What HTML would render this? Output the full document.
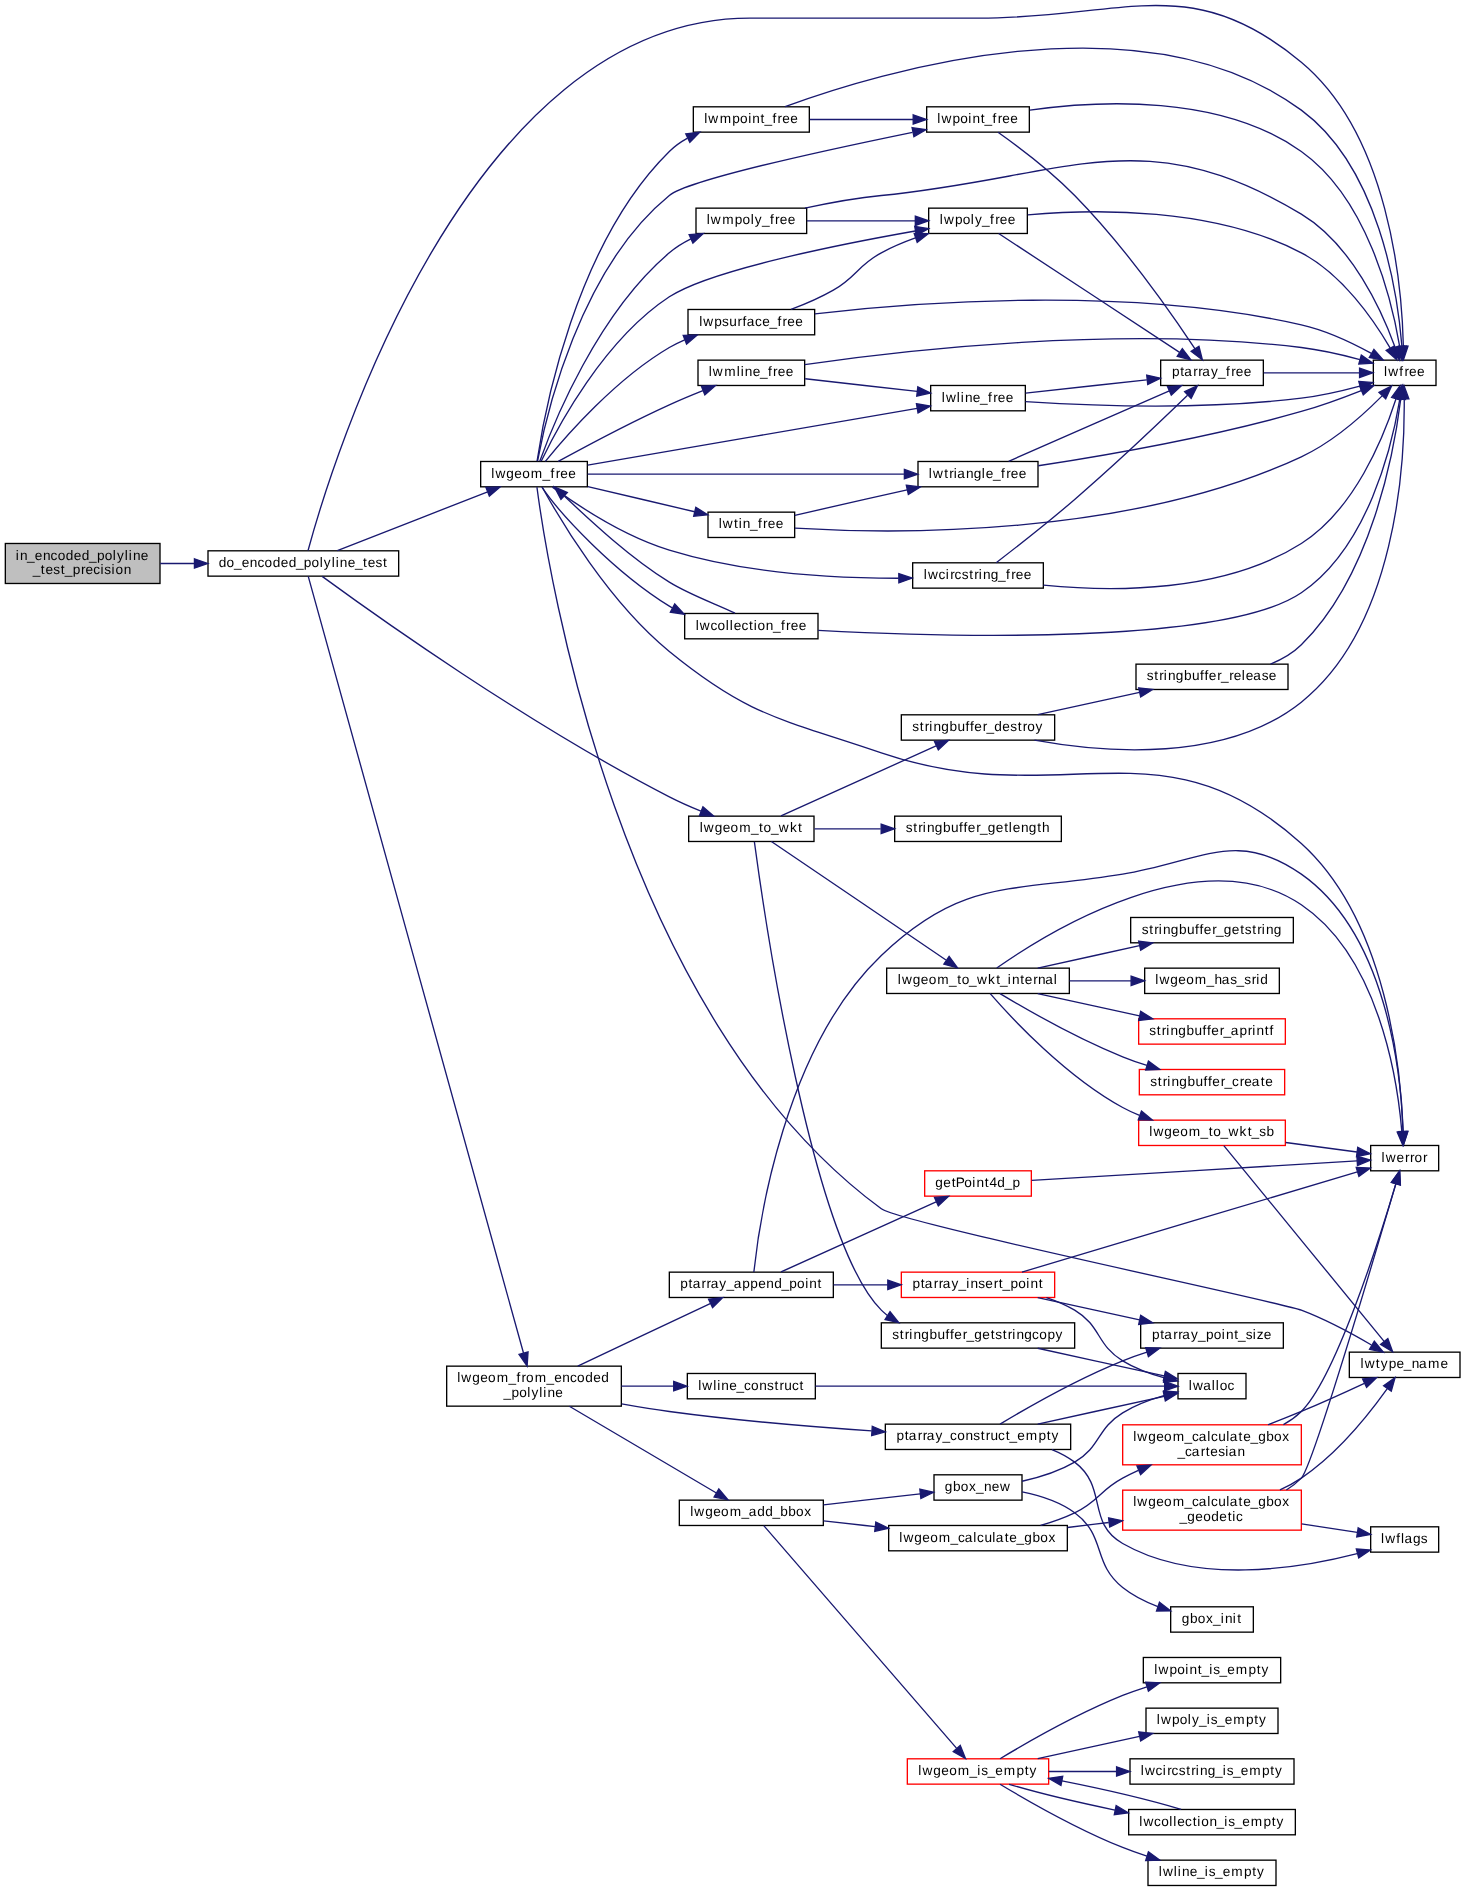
<!DOCTYPE html>
<html><head><meta charset="utf-8"><style>
html,body{margin:0;padding:0;background:#fff;width:1465px;height:1891px;overflow:hidden}
svg{display:block}
text{font-family:"Liberation Sans",sans-serif;font-size:13.65px;fill:#000}
.ep{fill:none;stroke:#191970;stroke-width:1.3333}
.ea{fill:#191970;stroke:#191970;stroke-width:1.3333}
rect{stroke-width:1.3333}
svg{will-change:transform} text{text-rendering:geometricPrecision}
</style></head><body>
<svg width="1465" height="1891" viewBox="0 0 1465 1891">
<rect width="1465" height="1891" fill="#fff" stroke="none"/>
<rect x="5.33" y="543.48" width="154.67" height="40.00" fill="#bfbfbf" stroke="#000000"/>
<text transform="scale(1.0,1.001)" x="15.84 19.96 27.06 34.83 42.96 50.60 57.79 65.85 73.83 81.85 89.06 97.02 104.79 112.84 117.03 124.84 128.84 132.96 140.83" y="559.17">in_encoded_polyline</text>
<text transform="scale(1.0,1.001)" x="32.73 40.85 45.50 53.32 60.85 64.73 72.69 80.90 85.50 93.26 100.51 104.32 111.51 115.45 123.63" y="573.82">_test_precision</text>
<rect x="208.00" y="550.81" width="190.67" height="25.33" fill="#ffffff" stroke="#000000"/>
<text transform="scale(1.0,1.001)" x="218.68 226.62 233.90 241.67 249.79 257.43 264.62 272.68 280.67 288.68 295.90 303.86 311.62 319.67 323.86 331.67 335.68 339.79 347.67 354.90 363.02 367.67 375.49 383.02" y="566.50">do_encoded_polyline_test</text>
<path class="ep" d="M160.24,563.48C171.28,563.48 182.80,563.48 194.31,563.48"/>
<polygon class="ea" points="194.44,558.81 207.77,563.48 194.44,568.15 194.44,558.81"/>
<rect x="1373.33" y="360.15" width="62.67" height="25.33" fill="#ffffff" stroke="#000000"/>
<text transform="scale(1.0,1.001)" x="1384.00 1388.18 1399.29 1404.40 1409.00 1417.00" y="376.02">lwfree</text>
<path class="ep" d="M308.05,550.53C330.49,467.96 465.80,18.15 750.00,18.15 750.00,18.15 750.00,18.15 979.33,18.15 1123.77,18.15 1190.36,-30.32 1301.33,62.15 1388.99,135.17 1401.88,285.00 1403.37,346.04"/>
<polygon class="ea" points="1408.04,346.16 1403.55,359.55 1398.71,346.28 1408.04,346.16"/>
<rect x="480.67" y="461.48" width="106.67" height="25.33" fill="#ffffff" stroke="#000000"/>
<text transform="scale(1.0,1.001)" x="491.34 495.52 506.35 514.33 522.29 530.84 542.56 550.62 555.73 560.33 568.33" y="477.25">lwgeom_free</text>
<path class="ep" d="M337.33,550.68C376.79,535.23 443.35,509.15 487.64,491.79"/>
<polygon class="ea" points="485.95,487.44 500.07,486.92 489.35,496.13 485.95,487.44"/>
<rect x="446.67" y="1366.15" width="174.67" height="40.00" fill="#ffffff" stroke="#000000"/>
<text transform="scale(1.0,1.001)" x="457.17 461.35 472.18 480.17 488.12 496.68 508.40 516.46 521.57 526.12 534.68 546.40 554.17 562.29 569.93 577.12 585.18 593.17 601.18" y="1381.02">lwgeom_from_encoded</text>
<text transform="scale(1.0,1.001)" x="503.56 511.52 519.29 527.34 531.53 539.34 543.34 547.46 555.33" y="1395.67">_polyline</text>
<path class="ep" d="M308.25,576.40C333.47,667.41 484.52,1212.41 523.49,1353.05"/>
<polygon class="ea" points="528.04,1351.97 527.11,1366.08 519.04,1354.47 528.04,1351.97"/>
<rect x="688.67" y="816.15" width="125.33" height="25.33" fill="#ffffff" stroke="#000000"/>
<text transform="scale(1.0,1.001)" x="699.67 703.85 714.68 722.67 730.62 739.18 750.90 759.02 763.62 770.90 778.85 789.90 798.02" y="831.57">lwgeom_to_wkt</text>
<path class="ep" d="M322.15,576.40C373.47,613.93 528.85,724.85 669.33,796.81 679.35,801.95 690.37,806.80 700.97,811.11"/>
<polygon class="ea" points="702.91,806.85 713.61,816.08 699.49,815.53 702.91,806.85"/>
<rect x="912.67" y="562.81" width="130.67" height="25.33" fill="#ffffff" stroke="#000000"/>
<text transform="scale(1.0,1.001)" x="923.84 928.02 938.60 945.84 950.23 954.60 961.65 969.18 974.23 978.84 982.96 990.85 998.06 1006.12 1011.23 1015.83 1023.83" y="578.48">lwcircstring_free</text>
<path class="ep" d="M552.40,487.11C576.83,504.85 623.84,536.12 669.33,550.15 744.88,573.44 835.53,578.29 898.72,578.23"/>
<polygon class="ea" points="898.81,573.56 912.17,578.13 898.87,582.89 898.81,573.56"/>
<rect x="684.67" y="613.48" width="133.33" height="25.33" fill="#ffffff" stroke="#000000"/>
<text transform="scale(1.0,1.001)" x="695.67 699.85 710.43 717.62 725.67 729.67 733.67 741.43 749.02 753.68 757.62 765.79 772.90 780.96 786.07 790.67 798.67" y="629.10">lwcollection_free</text>
<path class="ep" d="M541.88,487.19C560.16,514.11 614.09,571.97 669.33,606.15 670.37,606.79 671.43,607.43 672.49,608.04"/>
<polygon class="ea" points="674.75,603.96 684.31,614.36 670.35,612.20 674.75,603.96"/>
<rect x="1370.67" y="1145.48" width="68.00" height="25.33" fill="#ffffff" stroke="#000000"/>
<text transform="scale(1.0,1.001)" x="1381.50 1385.68 1396.50 1404.90 1409.90 1414.45 1422.90" y="1160.57">lwerror</text>
<path class="ep" d="M542.12,486.96C559.47,518.64 608.36,601.69 669.33,651.48 750.23,717.53 782.51,719.05 881.33,752.81 1062.04,814.56 1159.67,715.43 1301.33,843.48 1386.95,920.87 1401.00,1070.68 1403.09,1131.51"/>
<polygon class="ea" points="1407.76,1131.52 1403.40,1144.96 1398.43,1131.73 1407.76,1131.52"/>
<rect x="930.67" y="385.48" width="94.67" height="25.33" fill="#ffffff" stroke="#000000"/>
<text transform="scale(1.0,1.001)" x="941.84 946.02 956.84 960.84 964.96 972.83 980.06 988.12 993.23 997.83 1005.83" y="401.33">lwline_free</text>
<path class="ep" d="M587.69,465.13C670.27,450.91 830.27,423.36 917.11,408.40"/>
<polygon class="ea" points="916.45,403.77 930.39,406.12 918.04,412.97 916.45,403.77"/>
<rect x="698.00" y="360.15" width="106.67" height="25.33" fill="#ffffff" stroke="#000000"/>
<text transform="scale(1.0,1.001)" x="708.67 712.85 724.18 736.67 740.68 744.79 752.67 759.90 767.96 773.07 777.67 785.67" y="376.02">lwmline_free</text>
<path class="ep" d="M558.23,461.41C584.63,446.93 629.53,422.95 669.33,404.81 680.08,399.92 691.80,395.03 702.89,390.59"/>
<polygon class="ea" points="701.41,386.15 715.53,385.61 704.84,394.84 701.41,386.15"/>
<rect x="693.33" y="106.81" width="116.00" height="25.33" fill="#ffffff" stroke="#000000"/>
<text transform="scale(1.0,1.001)" x="704.17 708.35 719.68 732.36 740.12 748.18 752.29 760.52 764.40 772.46 777.57 782.17 790.17" y="122.94">lwmpoint_free</text>
<path class="ep" d="M537.08,461.05C544.19,413.00 575.09,244.23 669.33,151.48 674.64,146.27 680.89,141.87 687.55,138.17"/>
<polygon class="ea" points="685.77,133.84 699.80,132.24 689.83,142.25 685.77,133.84"/>
<rect x="926.67" y="106.81" width="102.67" height="25.33" fill="#ffffff" stroke="#000000"/>
<text transform="scale(1.0,1.001)" x="937.34 941.52 952.52 960.29 968.34 972.46 980.68 984.56 992.62 997.73 1002.33 1010.33" y="122.94">lwpoint_free</text>
<path class="ep" d="M537.53,461.21C545.81,416.72 579.36,268.61 669.33,195.48 688.23,180.13 828.12,149.63 912.52,132.31"/>
<polygon class="ea" points="912.07,127.63 926.07,129.53 913.93,136.77 912.07,127.63"/>
<rect x="696.00" y="208.15" width="110.67" height="25.33" fill="#ffffff" stroke="#000000"/>
<text transform="scale(1.0,1.001)" x="706.67 710.85 722.18 734.86 742.62 750.67 754.86 761.90 769.96 775.07 779.67 787.67" y="224.17">lwmpoly_free</text>
<path class="ep" d="M539.79,461.17C553.28,423.64 597.31,313.73 669.33,252.81 675.75,247.39 683.20,242.80 690.93,238.96"/>
<polygon class="ea" points="689.12,234.65 703.20,233.51 692.91,243.19 689.12,234.65"/>
<rect x="928.67" y="208.15" width="98.67" height="25.33" fill="#ffffff" stroke="#000000"/>
<text transform="scale(1.0,1.001)" x="939.84 944.02 955.02 962.79 970.84 975.03 982.06 990.12 995.23 999.83 1007.83" y="224.17">lwpoly_free</text>
<path class="ep" d="M541.31,461.03C557.09,427.88 603.29,340.37 669.33,296.81 709.37,270.40 837.65,244.68 915.25,230.99"/>
<polygon class="ea" points="914.72,226.35 928.65,228.65 916.32,235.53 914.72,226.35"/>
<rect x="688.00" y="309.48" width="126.67" height="25.33" fill="#ffffff" stroke="#000000"/>
<text transform="scale(1.0,1.001)" x="699.17 703.35 714.36 721.99 729.23 737.57 742.46 746.63 754.93 762.17 769.40 777.46 782.57 787.17 795.17" y="325.40">lwpsurface_free</text>
<path class="ep" d="M545.36,461.39C565.93,436.03 615.49,379.08 669.33,347.48 674.17,344.64 679.37,342.08 684.71,339.79"/>
<polygon class="ea" points="683.20,335.36 697.31,334.89 686.57,344.07 683.20,335.36"/>
<rect x="708.00" y="512.15" width="86.67" height="25.33" fill="#ffffff" stroke="#000000"/>
<text transform="scale(1.0,1.001)" x="718.67 722.85 734.02 738.68 742.79 749.90 757.96 763.07 767.67 775.67" y="527.87">lwtin_free</text>
<path class="ep" d="M587.85,486.55C620.25,494.19 661.76,503.99 694.67,511.76"/>
<polygon class="ea" points="695.83,507.23 707.73,514.84 693.69,516.32 695.83,507.23"/>
<rect x="918.00" y="461.48" width="120.00" height="25.33" fill="#ffffff" stroke="#000000"/>
<text transform="scale(1.0,1.001)" x="928.84 933.02 944.18 949.23 953.84 957.29 965.96 973.85 981.84 985.83 993.06 1001.12 1006.23 1010.83 1018.83" y="477.25">lwtriangle_free</text>
<path class="ep" d="M587.69,474.15C666.25,474.15 814.91,474.15 903.96,474.15"/>
<polygon class="ea" points="904.39,469.48 917.72,474.15 904.37,478.81 904.39,469.48"/>
<rect x="1349.33" y="1352.15" width="110.67" height="25.33" fill="#ffffff" stroke="#000000"/>
<text transform="scale(1.0,1.001)" x="1360.50 1364.68 1375.85 1380.70 1388.69 1396.50 1403.73 1411.63 1418.96 1428.01 1440.50" y="1367.03">lwtype_name</text>
<path class="ep" d="M536.93,487.20C547.77,569.09 617.89,1014.96 881.33,1208.81 900.67,1223.04 1278.91,1301.59 1301.33,1310.15 1325.81,1319.48 1351.83,1333.49 1371.45,1345.00"/>
<polygon class="ea" points="1374.31,1341.27 1383.36,1352.12 1369.52,1349.28 1374.31,1341.27"/>
<path class="ep" d="M1043.43,585.12C1112.60,592.09 1223.31,593.00 1301.33,543.48 1354.31,509.85 1383.48,437.93 1395.95,399.05"/>
<polygon class="ea" points="1391.59,397.33 1399.92,385.92 1400.52,400.03 1391.59,397.33"/>
<rect x="1160.67" y="360.15" width="102.67" height="25.33" fill="#ffffff" stroke="#000000"/>
<text transform="scale(1.0,1.001)" x="1172.02 1180.18 1184.29 1193.23 1198.23 1202.29 1211.03 1218.06 1226.12 1231.23 1235.83 1243.83" y="376.02">ptarray_free</text>
<path class="ep" d="M996.19,562.68C1015.48,547.87 1047.89,522.56 1074.67,499.48 1115.48,464.29 1160.92,421.12 1187.57,395.35"/>
<polygon class="ea" points="1184.65,391.68 1197.47,385.75 1191.15,398.39 1184.65,391.68"/>
<path class="ep" d="M1263.75,372.81C1293.47,372.81 1330.72,372.81 1359.25,372.81"/>
<polygon class="ea" points="1359.57,368.15 1372.91,372.81 1359.57,377.48 1359.57,368.15"/>
<path class="ep" d="M818.19,630.31C946.36,637.15 1224.47,645.25 1301.33,592.81 1367.87,547.43 1391.92,447.03 1399.83,399.17"/>
<polygon class="ea" points="1395.27,398.11 1401.87,385.61 1404.49,399.49 1395.27,398.11"/>
<path class="ep" d="M734.99,613.21C718.20,604.85 690.60,595.31 669.33,582.15 629.36,557.43 590.08,520.29 564.48,496.33"/>
<polygon class="ea" points="560.97,499.44 554.39,486.93 567.33,492.60 560.97,499.44"/>
<path class="ep" d="M1025.40,401.64C1088.09,405.61 1203.67,410.09 1301.33,398.15 1320.81,395.76 1341.93,390.91 1359.88,386.08"/>
<polygon class="ea" points="1358.80,381.53 1372.89,382.44 1361.32,390.52 1358.80,381.53"/>
<path class="ep" d="M1025.59,393.08C1060.35,389.28 1108.39,384.01 1146.80,379.81"/>
<polygon class="ea" points="1146.72,375.12 1160.48,378.31 1147.73,384.40 1146.72,375.12"/>
<path class="ep" d="M804.71,364.63C902.41,350.55 1119.84,325.28 1301.33,347.48 1320.81,349.87 1341.93,354.72 1359.88,359.55"/>
<polygon class="ea" points="1361.32,355.11 1372.89,363.19 1358.80,364.09 1361.32,355.11"/>
<path class="ep" d="M805.19,378.75C838.75,382.55 882.35,387.48 917.19,391.41"/>
<polygon class="ea" points="917.83,386.80 930.55,392.93 916.77,396.07 917.83,386.80"/>
<path class="ep" d="M785.15,106.71C876.80,72.97 1141.08,-8.03 1301.33,110.15 1378.71,167.21 1397.40,291.45 1401.91,346.11"/>
<polygon class="ea" points="1406.57,345.93 1402.84,359.56 1397.25,346.59 1406.57,345.93"/>
<path class="ep" d="M809.77,119.48C841.31,119.48 880.55,119.48 913.05,119.48"/>
<polygon class="ea" points="913.20,114.81 926.53,119.48 913.20,124.15 913.20,114.81"/>
<path class="ep" d="M1029.84,110.17C1098.12,100.53 1220.57,93.95 1301.33,151.48 1367.25,198.44 1391.61,298.81 1399.71,346.55"/>
<polygon class="ea" points="1404.37,346.17 1401.80,360.05 1395.15,347.60 1404.37,346.17"/>
<path class="ep" d="M998.00,132.27C1018.07,146.48 1050.35,170.71 1074.67,195.48 1123.77,245.52 1171.31,313.27 1195.03,348.80"/>
<polygon class="ea" points="1198.93,346.24 1202.39,359.93 1191.15,351.39 1198.93,346.24"/>
<path class="ep" d="M804.91,208.13C828.16,203.11 855.96,197.96 881.33,195.48 1067.31,177.35 1141.15,117.95 1301.33,214.15 1351.89,244.51 1381.80,310.68 1395.08,347.24"/>
<polygon class="ea" points="1399.57,345.96 1399.51,360.09 1390.75,349.00 1399.57,345.96"/>
<path class="ep" d="M806.89,220.81C839.55,220.81 881.24,220.81 915.13,220.81"/>
<polygon class="ea" points="915.32,216.15 928.65,220.81 915.32,225.48 915.32,216.15"/>
<path class="ep" d="M1027.80,214.84C1093.72,209.01 1213.51,206.79 1301.33,252.81 1342.29,274.28 1373.64,319.75 1390.21,348.13"/>
<polygon class="ea" points="1394.32,345.92 1396.76,359.84 1386.17,350.48 1394.32,345.92"/>
<path class="ep" d="M998.65,233.51C1038.71,259.83 1131.04,320.49 1179.57,352.39"/>
<polygon class="ea" points="1182.32,348.61 1190.91,359.83 1177.20,356.41 1182.32,348.61"/>
<path class="ep" d="M814.95,313.83C917.76,302.00 1128.75,285.80 1301.33,324.81 1326.08,330.41 1351.91,342.64 1371.39,353.36"/>
<polygon class="ea" points="1373.93,349.43 1383.20,360.09 1369.31,357.53 1373.93,349.43"/>
<path class="ep" d="M791.04,309.47C804.79,304.27 820.12,297.69 833.33,290.15 856.80,276.73 857.52,265.59 881.33,252.81 891.95,247.12 903.77,242.16 915.39,237.97"/>
<polygon class="ea" points="914.19,233.45 928.32,233.56 917.20,242.28 914.19,233.45"/>
<path class="ep" d="M794.99,528.15C890.37,533.89 1127.44,538.15 1301.33,456.81 1332.89,442.05 1362.91,415.24 1382.11,395.87"/>
<polygon class="ea" points="1378.99,392.37 1391.59,386.00 1385.72,398.85 1378.99,392.37"/>
<path class="ep" d="M794.80,515.28C826.40,508.13 870.36,498.19 907.15,489.87"/>
<polygon class="ea" points="906.31,485.28 920.35,486.89 908.36,494.39 906.31,485.28"/>
<path class="ep" d="M1038.21,465.77C1103.31,455.80 1210.95,437.20 1301.33,411.48 1321.41,405.76 1343.12,397.80 1361.32,390.59"/>
<polygon class="ea" points="1359.77,386.17 1373.88,385.51 1363.27,394.83 1359.77,386.17"/>
<path class="ep" d="M1008.63,461.31C1049.31,443.49 1123.08,411.17 1169.33,390.92"/>
<polygon class="ea" points="1167.52,386.61 1181.60,385.55 1171.27,395.17 1167.52,386.61"/>
<rect x="679.33" y="1500.15" width="144.00" height="25.33" fill="#ffffff" stroke="#000000"/>
<text transform="scale(1.0,1.001)" x="690.17 694.35 705.18 713.17 721.12 729.68 741.40 748.63 757.18 765.18 772.40 780.36 788.36 796.12 804.34" y="1514.88">lwgeom_add_bbox</text>
<path class="ep" d="M569.35,1406.21C609.63,1429.99 676.31,1469.33 716.41,1492.99"/>
<polygon class="ea" points="718.83,1489.00 727.95,1499.80 714.09,1497.04 718.83,1489.00"/>
<rect x="687.33" y="1373.48" width="128.00" height="25.33" fill="#ffffff" stroke="#000000"/>
<text transform="scale(1.0,1.001)" x="698.17 702.35 713.17 717.18 721.29 729.17 736.40 743.93 751.12 759.29 766.99 774.52 779.57 784.23 791.93 799.52" y="1388.34">lwline_construct</text>
<path class="ep" d="M621.41,1386.15C638.55,1386.15 656.43,1386.15 673.23,1386.15"/>
<polygon class="ea" points="673.71,1381.48 687.04,1386.15 673.71,1390.81 673.71,1381.48"/>
<rect x="669.33" y="1272.15" width="164.00" height="25.33" fill="#ffffff" stroke="#000000"/>
<text transform="scale(1.0,1.001)" x="680.36 688.52 692.63 701.57 706.57 710.63 719.36 726.40 733.63 742.36 750.36 758.17 766.29 774.18 781.40 789.36 797.12 805.18 809.29 817.52" y="1287.11">ptarray_append_point</text>
<path class="ep" d="M577.75,1366.12C616.21,1347.96 672.52,1321.39 710.17,1303.61"/>
<polygon class="ea" points="708.60,1299.20 722.65,1297.72 712.59,1307.64 708.60,1299.20"/>
<rect x="885.33" y="1424.15" width="185.33" height="25.33" fill="#ffffff" stroke="#000000"/>
<text transform="scale(1.0,1.001)" x="896.52 904.68 908.79 917.73 922.73 926.79 935.53 942.56 950.10 957.29 965.46 973.15 980.68 985.73 990.40 998.10 1005.68 1009.56 1017.33 1025.84 1038.52 1046.68 1051.53" y="1438.96">ptarray_construct_empty</text>
<path class="ep" d="M621.61,1403.83C637.44,1406.68 653.85,1409.39 669.33,1411.48 736.40,1420.56 812.16,1426.85 871.68,1430.89"/>
<polygon class="ea" points="872.29,1426.25 885.29,1431.79 871.67,1435.56 872.29,1426.25"/>
<rect x="934.00" y="1474.81" width="88.00" height="25.33" fill="#ffffff" stroke="#000000"/>
<text transform="scale(1.0,1.001)" x="944.85 953.02 960.79 969.00 976.06 983.96 991.83 1000.02" y="1489.57">gbox_new</text>
<path class="ep" d="M823.55,1504.80C854.75,1501.27 890.89,1497.19 920.23,1493.87"/>
<polygon class="ea" points="919.84,1489.21 933.61,1492.35 920.88,1498.48 919.84,1489.21"/>
<rect x="888.67" y="1525.48" width="178.67" height="25.33" fill="#ffffff" stroke="#000000"/>
<text transform="scale(1.0,1.001)" x="899.34 903.52 914.35 922.33 930.29 938.84 950.56 958.10 964.79 973.34 977.10 984.40 992.34 995.79 1004.68 1009.33 1016.56 1024.35 1032.52 1040.29 1048.50" y="1540.19">lwgeom_calculate_gbox</text>
<path class="ep" d="M823.55,1520.83C839.99,1522.69 857.80,1524.71 875.28,1526.68"/>
<polygon class="ea" points="875.81,1522.04 888.53,1528.17 874.76,1531.32 875.81,1522.04"/>
<rect x="907.33" y="1758.81" width="141.33" height="25.33" fill="#ffffff" stroke="#ff0000"/>
<text transform="scale(1.0,1.001)" x="918.34 922.52 933.35 941.33 949.29 957.84 969.56 977.34 981.15 987.56 995.33 1003.84 1016.52 1024.68 1029.53" y="1773.29">lwgeom_is_empty</text>
<path class="ep" d="M763.77,1525.64C799.31,1566.67 910.52,1695.11 956.48,1748.17"/>
<polygon class="ea" points="960.29,1745.44 965.49,1758.57 953.24,1751.55 960.29,1745.44"/>
<rect x="1170.67" y="1606.81" width="82.67" height="25.33" fill="#ffffff" stroke="#000000"/>
<text transform="scale(1.0,1.001)" x="1181.85 1190.02 1197.79 1206.00 1213.06 1220.84 1224.96 1232.84 1237.18" y="1621.44">gbox_init</text>
<path class="ep" d="M1022.13,1491.97C1039.69,1495.48 1059.44,1501.72 1074.67,1512.81 1106.56,1536.04 1091.84,1562.85 1122.67,1587.48 1132.95,1595.69 1145.51,1601.91 1157.89,1606.57"/>
<polygon class="ea" points="1159.51,1602.19 1170.64,1610.88 1156.51,1611.03 1159.51,1602.19"/>
<rect x="1178.00" y="1373.48" width="68.00" height="25.33" fill="#ffffff" stroke="#000000"/>
<text transform="scale(1.0,1.001)" x="1188.84 1193.02 1203.29 1211.84 1215.84 1219.79 1227.60" y="1388.34">lwalloc</text>
<path class="ep" d="M1022.08,1481.24C1039.24,1477.45 1058.71,1471.49 1074.67,1462.15 1101.07,1446.69 1096.53,1428.72 1122.67,1412.81 1135.37,1405.08 1150.49,1399.44 1164.59,1395.40"/>
<polygon class="ea" points="1163.60,1390.84 1177.67,1392.00 1165.95,1399.87 1163.60,1390.84"/>
<rect x="1122.67" y="1424.81" width="178.67" height="40.00" fill="#ffffff" stroke="#ff0000"/>
<text transform="scale(1.0,1.001)" x="1133.17 1137.35 1148.18 1156.17 1164.12 1172.68 1184.40 1191.93 1198.63 1207.17 1210.93 1218.23 1226.17 1229.63 1238.52 1243.17 1250.40 1258.18 1266.36 1274.12 1282.34" y="1439.62">lwgeom_calculate_gbox</text>
<text transform="scale(1.0,1.001)" x="1177.56 1185.10 1191.79 1200.73 1205.68 1210.33 1218.15 1225.34 1228.79 1237.46" y="1454.28">_cartesian</text>
<path class="ep" d="M1040.53,1525.44C1052.15,1522.05 1063.99,1517.88 1074.67,1512.81 1098.44,1501.55 1099.49,1490.61 1122.67,1478.15 1127.68,1475.44 1132.97,1472.87 1138.35,1470.41"/>
<polygon class="ea" points="1136.92,1465.95 1151.01,1464.96 1140.61,1474.52 1136.92,1465.95"/>
<rect x="1122.67" y="1490.15" width="178.67" height="40.00" fill="#ffffff" stroke="#ff0000"/>
<text transform="scale(1.0,1.001)" x="1133.17 1137.35 1148.18 1156.17 1164.12 1172.68 1184.40 1191.93 1198.63 1207.17 1210.93 1218.23 1226.17 1229.63 1238.52 1243.17 1250.40 1258.18 1266.36 1274.12 1282.34" y="1504.89">lwgeom_calculate_gbox</text>
<text transform="scale(1.0,1.001)" x="1179.56 1187.35 1195.33 1203.29 1211.35 1219.33 1227.68 1232.34 1236.10" y="1519.54">_geodetic</text>
<path class="ep" d="M1067.45,1527.48C1080.95,1525.85 1094.99,1524.15 1108.76,1522.48"/>
<polygon class="ea" points="1108.61,1517.80 1122.41,1520.83 1109.73,1527.07 1108.61,1517.80"/>
<path class="ep" d="M1283.43,1424.69C1289.96,1420.99 1296.08,1416.63 1301.33,1411.48 1335.29,1378.21 1378.64,1241.60 1395.83,1183.97"/>
<polygon class="ea" points="1391.45,1182.32 1399.69,1170.84 1400.40,1184.96 1391.45,1182.32"/>
<path class="ep" d="M1268.01,1424.75C1279.09,1420.51 1290.63,1415.95 1301.33,1411.48 1322.36,1402.71 1345.47,1392.20 1364.37,1383.39"/>
<polygon class="ea" points="1362.65,1379.03 1376.71,1377.59 1366.61,1387.48 1362.65,1379.03"/>
<path class="ep" d="M1286.36,1490.00C1291.84,1486.64 1296.95,1482.72 1301.33,1478.15 1311.96,1467.08 1374.05,1257.92 1395.81,1183.87"/>
<polygon class="ea" points="1391.36,1182.44 1399.60,1170.95 1400.32,1185.07 1391.36,1182.44"/>
<path class="ep" d="M1279.95,1489.95C1287.43,1486.52 1294.73,1482.60 1301.33,1478.15 1337.36,1453.85 1369.12,1414.12 1387.28,1388.73"/>
<polygon class="ea" points="1383.60,1385.84 1395.05,1377.56 1391.27,1391.16 1383.60,1385.84"/>
<rect x="1370.67" y="1526.81" width="68.00" height="25.33" fill="#ffffff" stroke="#000000"/>
<text transform="scale(1.0,1.001)" x="1381.00 1385.18 1396.29 1401.00 1404.46 1413.02 1420.82" y="1541.52">lwflags</text>
<path class="ep" d="M1301.65,1523.79C1320.89,1526.75 1340.48,1529.77 1357.28,1532.37"/>
<polygon class="ea" points="1358.19,1527.79 1370.65,1534.44 1356.76,1537.01 1358.19,1527.79"/>
<rect x="1130.00" y="1758.81" width="164.00" height="25.33" fill="#ffffff" stroke="#000000"/>
<text transform="scale(1.0,1.001)" x="1140.84 1145.02 1155.60 1162.84 1167.23 1171.60 1178.65 1186.18 1191.23 1195.84 1199.96 1207.85 1215.06 1222.84 1226.65 1233.06 1240.83 1249.34 1262.02 1270.18 1275.03" y="1773.29">lwcircstring_is_empty</text>
<path class="ep" d="M1048.75,1771.48C1069.91,1771.48 1093.53,1771.48 1116.07,1771.48"/>
<polygon class="ea" points="1116.59,1766.81 1129.92,1771.48 1116.59,1776.15 1116.59,1766.81"/>
<rect x="1128.67" y="1809.48" width="166.67" height="25.33" fill="#ffffff" stroke="#000000"/>
<text transform="scale(1.0,1.001)" x="1139.34 1143.52 1154.10 1161.29 1169.34 1173.34 1177.33 1185.10 1192.68 1197.34 1201.29 1209.46 1216.56 1224.34 1228.15 1234.56 1242.33 1250.84 1263.52 1271.68 1276.53" y="1823.91">lwcollection_is_empty</text>
<path class="ep" d="M1009.11,1784.27C1035.96,1792.36 1076.96,1802.20 1114.99,1810.07"/>
<polygon class="ea" points="1116.15,1805.55 1128.29,1812.76 1114.29,1814.69 1116.15,1805.55"/>
<rect x="1148.00" y="1860.15" width="128.00" height="25.33" fill="#ffffff" stroke="#000000"/>
<text transform="scale(1.0,1.001)" x="1158.84 1163.02 1173.84 1177.84 1181.96 1189.83 1197.06 1204.84 1208.65 1215.06 1222.83 1231.34 1244.02 1252.18 1257.03" y="1874.52">lwline_is_empty</text>
<path class="ep" d="M1000.04,1784.23C1027.33,1800.61 1077.23,1829.12 1122.67,1847.48 1130.40,1850.60 1138.67,1853.52 1146.92,1856.16"/>
<polygon class="ea" points="1148.41,1851.75 1159.80,1860.11 1145.68,1860.67 1148.41,1851.75"/>
<rect x="1143.33" y="1657.48" width="137.33" height="25.33" fill="#ffffff" stroke="#000000"/>
<text transform="scale(1.0,1.001)" x="1154.34 1158.52 1169.52 1177.29 1185.34 1189.46 1197.68 1201.56 1209.34 1213.15 1219.56 1227.33 1235.84 1248.52 1256.68 1261.53" y="1672.06">lwpoint_is_empty</text>
<path class="ep" d="M1000.04,1758.73C1027.33,1742.35 1077.23,1713.84 1122.67,1695.48 1130.40,1692.36 1138.67,1689.44 1146.92,1686.80"/>
<polygon class="ea" points="1145.68,1682.29 1159.80,1682.85 1148.41,1691.21 1145.68,1682.29"/>
<rect x="1146.00" y="1708.15" width="132.00" height="25.33" fill="#ffffff" stroke="#000000"/>
<text transform="scale(1.0,1.001)" x="1156.84 1161.02 1172.02 1179.79 1187.84 1192.03 1199.06 1206.84 1210.65 1217.06 1224.83 1233.34 1246.02 1254.18 1259.03" y="1722.67">lwpoly_is_empty</text>
<path class="ep" d="M1037.71,1758.69C1068.65,1751.92 1106.91,1743.53 1139.56,1736.39"/>
<polygon class="ea" points="1138.69,1731.80 1152.71,1733.51 1140.68,1740.92 1138.69,1731.80"/>
<path class="ep" d="M1181.08,1809.41C1151.13,1800.39 1103.45,1789.13 1061.96,1780.91"/>
<polygon class="ea" points="1060.95,1785.47 1048.75,1778.36 1062.72,1776.31 1060.95,1785.47"/>
<path class="ep" d="M815.39,1386.15C908.72,1386.15 1082.00,1386.15 1164.59,1386.15"/>
<polygon class="ea" points="1164.64,1381.48 1177.97,1386.15 1164.64,1390.81 1164.64,1381.48"/>
<path class="ep" d="M753.85,1271.97C759.05,1223.32 784.05,1048.25 881.33,955.48 963.24,877.36 1010.97,892.47 1122.67,874.15 1201.03,861.29 1236.39,828.47 1301.33,874.15 1386.69,934.19 1400.97,1072.75 1403.11,1131.28"/>
<polygon class="ea" points="1407.77,1131.49 1403.43,1144.93 1398.44,1131.72 1407.77,1131.49"/>
<rect x="924.67" y="1170.81" width="106.67" height="25.33" fill="#ffffff" stroke="#ff0000"/>
<text transform="scale(1.0,1.001)" x="935.35 943.33 951.68 955.69 964.29 972.34 976.46 984.68 989.44 997.35 1004.56 1012.52" y="1185.88">getPoint4d_p</text>
<path class="ep" d="M781.04,1271.97C820.25,1254.24 891.25,1222.12 936.08,1201.84"/>
<polygon class="ea" points="934.45,1197.45 948.53,1196.21 938.31,1205.96 934.45,1197.45"/>
<rect x="901.33" y="1272.15" width="153.33" height="25.33" fill="#ffffff" stroke="#ff0000"/>
<text transform="scale(1.0,1.001)" x="912.52 920.68 924.79 933.73 938.73 942.79 951.53 958.56 966.34 970.46 978.15 985.33 993.73 998.68 1002.56 1010.52 1018.29 1026.34 1030.46 1038.68" y="1287.11">ptarray_insert_point</text>
<path class="ep" d="M833.53,1284.81C851.11,1284.81 869.80,1284.81 887.67,1284.81"/>
<polygon class="ea" points="887.81,1280.15 901.15,1284.81 887.81,1289.48 887.81,1280.15"/>
<path class="ep" d="M1031.75,1180.35C1115.36,1175.35 1277.56,1165.67 1357.09,1160.91"/>
<polygon class="ea" points="1356.91,1156.24 1370.49,1160.11 1357.47,1165.56 1356.91,1156.24"/>
<path class="ep" d="M1021.93,1272.09C1102.09,1248.13 1274.75,1196.56 1357.40,1171.87"/>
<polygon class="ea" points="1356.23,1167.35 1370.35,1168.00 1358.91,1176.29 1356.23,1167.35"/>
<path class="ep" d="M1046.37,1297.56C1056.24,1300.85 1065.99,1304.99 1074.67,1310.15 1101.33,1325.99 1096.16,1344.69 1122.67,1360.81 1135.33,1368.51 1150.44,1373.96 1164.53,1377.79"/>
<polygon class="ea" points="1165.76,1373.28 1177.61,1380.96 1163.56,1382.35 1165.76,1373.28"/>
<rect x="1140.67" y="1322.81" width="142.67" height="25.33" fill="#ffffff" stroke="#000000"/>
<text transform="scale(1.0,1.001)" x="1152.02 1160.18 1164.29 1173.23 1178.23 1182.29 1191.03 1198.06 1206.02 1213.79 1221.84 1225.96 1234.18 1238.06 1245.65 1252.84 1256.65 1263.83" y="1337.73">ptarray_point_size</text>
<path class="ep" d="M1037.71,1297.60C1068.65,1304.37 1106.91,1312.76 1139.56,1319.91"/>
<polygon class="ea" points="1140.68,1315.37 1152.71,1322.79 1138.69,1324.49 1140.68,1315.37"/>
<path class="ep" d="M1037.71,1424.03C1076.88,1415.45 1127.76,1404.31 1164.19,1396.32"/>
<polygon class="ea" points="1163.36,1391.73 1177.39,1393.44 1165.36,1400.85 1163.36,1391.73"/>
<path class="ep" d="M1051.92,1449.57C1060.05,1452.85 1067.84,1456.97 1074.67,1462.15 1108.12,1487.51 1086.21,1522.67 1122.67,1543.48 1195.93,1585.31 1298.45,1568.73 1357.16,1553.61"/>
<polygon class="ea" points="1356.32,1549.01 1370.40,1550.04 1358.75,1558.03 1356.32,1549.01"/>
<path class="ep" d="M1000.04,1424.07C1027.33,1407.68 1077.23,1379.17 1122.67,1360.81 1130.40,1357.69 1138.67,1354.77 1146.92,1352.13"/>
<polygon class="ea" points="1145.68,1347.63 1159.80,1348.19 1148.41,1356.55 1145.68,1347.63"/>
<rect x="886.67" y="968.15" width="182.67" height="25.33" fill="#ffffff" stroke="#000000"/>
<text transform="scale(1.0,1.001)" x="897.84 902.02 912.85 920.83 928.79 937.34 949.06 957.18 961.79 969.06 977.02 988.06 996.18 1000.06 1007.84 1011.96 1020.18 1024.83 1033.23 1037.96 1045.29 1053.84" y="983.41">lwgeom_to_wkt_internal</text>
<path class="ep" d="M771.37,841.51C809.99,867.71 898.80,927.97 945.96,959.97"/>
<polygon class="ea" points="949.12,956.48 957.53,967.83 943.88,964.20 949.12,956.48"/>
<rect x="901.33" y="714.81" width="153.33" height="25.33" fill="#ffffff" stroke="#000000"/>
<text transform="scale(1.0,1.001)" x="912.15 919.68 924.73 929.34 933.46 941.35 949.52 957.40 965.62 970.12 974.33 982.73 986.56 994.35 1002.33 1010.15 1017.68 1022.73 1027.29 1035.53" y="730.33">stringbuffer_destroy</text>
<path class="ep" d="M781.04,815.97C820.25,798.24 891.25,766.12 936.08,745.84"/>
<polygon class="ea" points="934.45,741.45 948.53,740.21 938.31,749.96 934.45,741.45"/>
<rect x="894.67" y="816.15" width="166.67" height="25.33" fill="#ffffff" stroke="#000000"/>
<text transform="scale(1.0,1.001)" x="905.65 913.18 918.23 922.84 926.96 934.85 943.02 950.90 959.12 963.62 967.83 976.23 980.06 987.85 995.83 1004.18 1008.84 1012.83 1020.96 1028.85 1037.18 1041.94" y="831.57">stringbuffer_getlength</text>
<path class="ep" d="M814.47,828.81C834.95,828.81 858.25,828.81 880.69,828.81"/>
<polygon class="ea" points="881.17,824.15 894.51,828.81 881.17,833.48 881.17,824.15"/>
<rect x="881.33" y="1322.81" width="193.33" height="25.33" fill="#ffffff" stroke="#000000"/>
<text transform="scale(1.0,1.001)" x="892.15 899.68 904.73 909.34 913.46 921.35 929.52 937.40 945.62 950.12 954.33 962.73 966.56 974.35 982.33 990.68 995.15 1002.68 1007.73 1012.34 1016.46 1024.35 1032.10 1039.29 1047.52 1055.53" y="1337.73">stringbuffer_getstringcopy</text>
<path class="ep" d="M754.39,841.87C763.80,911.67 811.40,1240.32 881.33,1310.15 883.24,1312.05 885.28,1313.81 887.41,1315.45"/>
<polygon class="ea" points="890.04,1311.59 898.85,1322.63 885.08,1319.51 890.04,1311.59"/>
<path class="ep" d="M996.73,968.05C1048.00,932.15 1201.13,837.15 1301.33,904.81 1378.39,956.85 1397.24,1077.83 1401.85,1131.57"/>
<polygon class="ea" points="1406.52,1131.49 1402.83,1145.12 1397.21,1132.16 1406.52,1131.49"/>
<rect x="1144.67" y="968.15" width="134.67" height="25.33" fill="#ffffff" stroke="#000000"/>
<text transform="scale(1.0,1.001)" x="1155.34 1159.52 1170.35 1178.33 1186.29 1194.84 1206.56 1214.44 1221.79 1230.15 1236.56 1244.15 1251.73 1256.34 1260.35" y="983.41">lwgeom_has_srid</text>
<path class="ep" d="M1069.44,980.81C1089.75,980.81 1111.16,980.81 1131.00,980.81"/>
<polygon class="ea" points="1131.12,976.15 1144.45,980.81 1131.12,985.48 1131.12,976.15"/>
<rect x="1138.67" y="1120.15" width="146.67" height="25.33" fill="#ffffff" stroke="#ff0000"/>
<text transform="scale(1.0,1.001)" x="1149.34 1153.52 1164.35 1172.33 1180.29 1188.84 1200.56 1208.68 1213.29 1220.56 1228.52 1239.56 1247.68 1251.56 1259.15 1266.52" y="1135.26">lwgeom_to_wkt_sb</text>
<path class="ep" d="M990.20,993.65C1012.45,1019.13 1065.89,1076.32 1122.67,1107.48 1127.99,1110.40 1133.67,1113.01 1139.51,1115.35"/>
<polygon class="ea" points="1141.45,1111.08 1152.40,1120.01 1138.27,1119.87 1141.45,1111.08"/>
<rect x="1138.67" y="1018.81" width="146.67" height="25.33" fill="#ffffff" stroke="#ff0000"/>
<text transform="scale(1.0,1.001)" x="1149.15 1156.68 1161.73 1166.34 1170.46 1178.35 1186.52 1194.40 1202.62 1207.12 1211.33 1219.73 1223.56 1230.79 1239.52 1247.73 1252.34 1256.46 1264.68 1269.62" y="1034.03">stringbuffer_aprintf</text>
<path class="ep" d="M1037.71,993.60C1068.65,1000.37 1106.91,1008.76 1139.56,1015.91"/>
<polygon class="ea" points="1140.68,1011.37 1152.71,1018.79 1138.69,1020.49 1140.68,1011.37"/>
<rect x="1139.33" y="1069.48" width="145.33" height="25.33" fill="#ffffff" stroke="#ff0000"/>
<text transform="scale(1.0,1.001)" x="1150.15 1157.68 1162.73 1167.34 1171.46 1179.35 1187.52 1195.40 1203.62 1208.12 1212.33 1220.73 1224.56 1232.10 1239.73 1244.33 1251.79 1260.68 1265.33" y="1084.65">stringbuffer_create</text>
<path class="ep" d="M1000.04,993.56C1027.33,1009.95 1077.23,1038.45 1122.67,1056.81 1130.40,1059.93 1138.67,1062.85 1146.92,1065.49"/>
<polygon class="ea" points="1148.41,1061.08 1159.80,1069.44 1145.68,1070.00 1148.41,1061.08"/>
<rect x="1130.67" y="917.48" width="162.67" height="25.33" fill="#ffffff" stroke="#000000"/>
<text transform="scale(1.0,1.001)" x="1141.65 1149.18 1154.23 1158.84 1162.96 1170.85 1179.02 1186.90 1195.12 1199.62 1203.83 1212.23 1216.06 1223.85 1231.83 1240.18 1244.65 1252.18 1257.23 1261.84 1265.96 1273.85" y="932.80">stringbuffer_getstring</text>
<path class="ep" d="M1037.71,968.03C1068.65,961.25 1106.91,952.87 1139.56,945.72"/>
<polygon class="ea" points="1138.69,941.13 1152.71,942.84 1140.68,950.25 1138.69,941.13"/>
<path class="ep" d="M1285.71,1142.47C1309.63,1145.65 1335.57,1149.11 1356.99,1151.97"/>
<polygon class="ea" points="1357.75,1147.36 1370.35,1153.75 1356.52,1156.61 1357.75,1147.36"/>
<path class="ep" d="M1223.81,1145.61C1254.51,1183.08 1344.43,1292.88 1384.12,1341.36"/>
<polygon class="ea" points="1387.81,1338.49 1392.64,1351.76 1380.59,1344.40 1387.81,1338.49"/>
<path class="ep" d="M1034.43,740.21C1104.45,752.95 1225.35,762.91 1301.33,702.15 1396.35,626.17 1404.79,463.25 1404.23,399.33"/>
<polygon class="ea" points="1399.56,399.07 1403.95,385.64 1408.89,398.88 1399.56,399.07"/>
<rect x="1136.00" y="664.15" width="152.00" height="25.33" fill="#ffffff" stroke="#000000"/>
<text transform="scale(1.0,1.001)" x="1146.65 1154.18 1159.23 1163.84 1167.96 1175.85 1184.02 1191.90 1200.12 1204.62 1208.83 1217.23 1221.06 1229.23 1233.83 1241.84 1245.83 1253.29 1261.65 1268.83" y="679.72">stringbuffer_release</text>
<path class="ep" d="M1037.71,714.69C1068.65,707.92 1106.91,699.53 1139.56,692.39"/>
<polygon class="ea" points="1138.69,687.80 1152.71,689.51 1140.68,696.92 1138.69,687.80"/>
<path class="ep" d="M1270.56,664.12C1281.83,659.52 1292.79,653.28 1301.33,644.81 1371.61,575.23 1394.08,452.64 1400.73,399.09"/>
<polygon class="ea" points="1396.12,398.36 1402.25,385.64 1405.40,399.41 1396.12,398.36"/>
<path class="ep" d="M1037.71,1348.27C1076.88,1356.84 1127.76,1367.99 1164.19,1375.97"/>
<polygon class="ea" points="1165.36,1371.44 1177.39,1378.85 1163.36,1380.56 1165.36,1371.44"/>
</svg>
</body></html>
